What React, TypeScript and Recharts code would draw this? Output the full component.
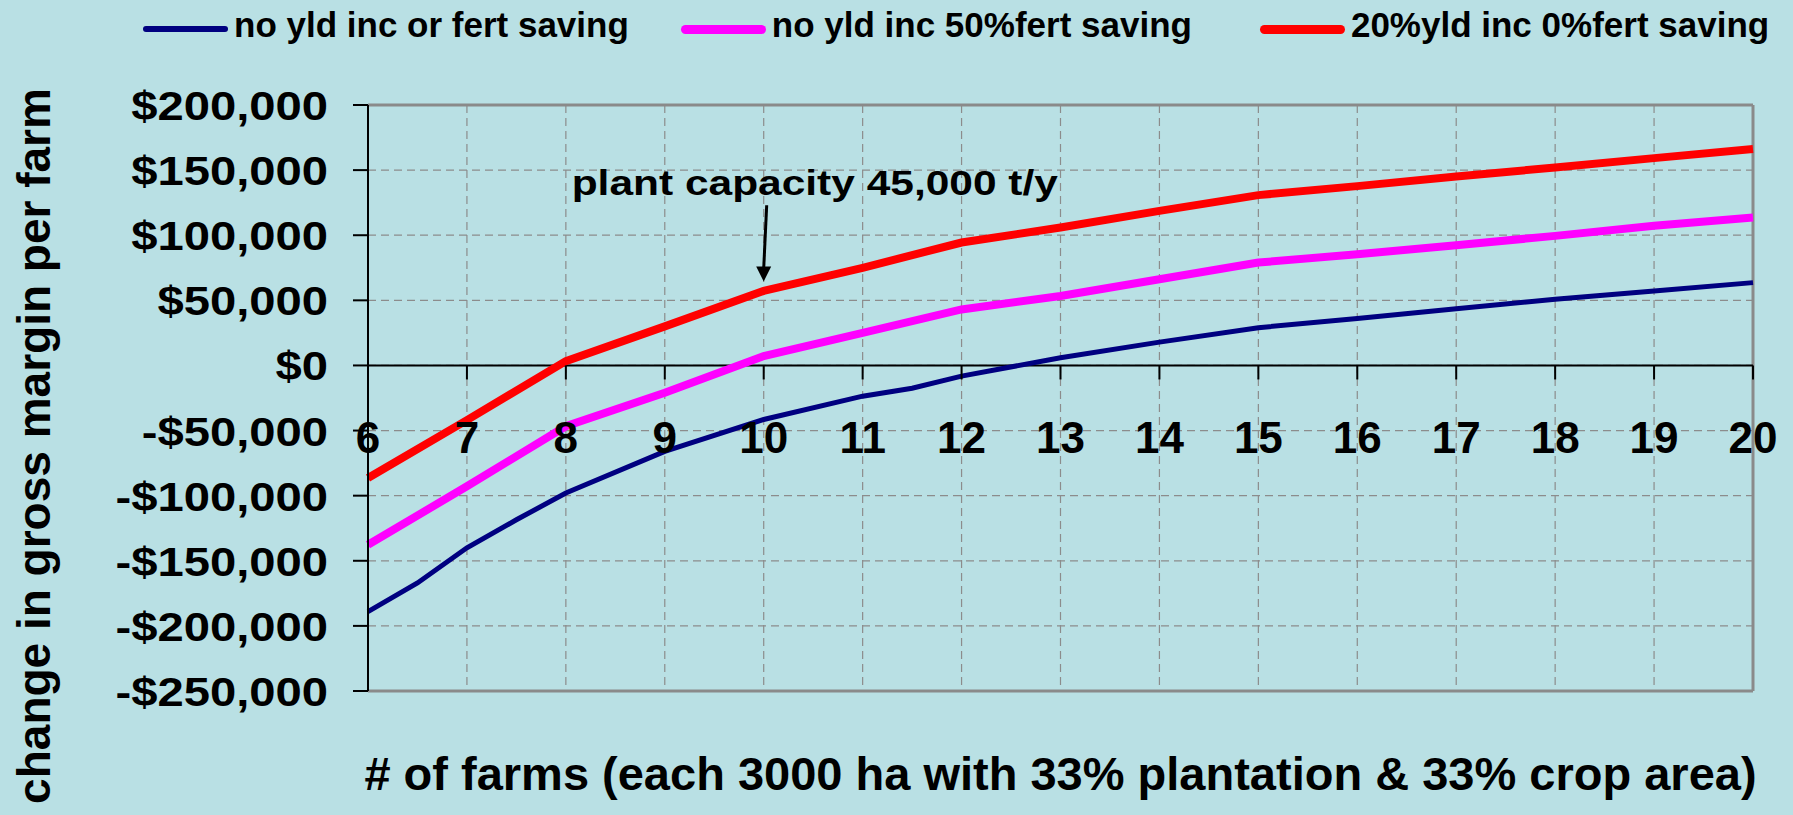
import React from 'react';
import {
  LineChart,
  Line,
  XAxis,
  YAxis,
  CartesianGrid,
  ReferenceLine,
  Legend,
} from 'recharts';

// farm counts on the category axis
const farms = [6, 7, 8, 9, 10, 11, 12, 13, 14, 15, 16, 17, 18, 19, 20];
// the base series was run at a few extra half-steps
const baseFarms = [6, 6.5, 7, 7.5, 8, 9, 10, 11, 11.5, 12, 13, 14, 15, 16, 17, 18, 19, 20];

const baseMargin = [
  -189000, -167000, -140000, -118500, -98000, -66000, -41500, -23600, -17500, -8200,
  5900, 17900, 29000, 36000, 43600, 50800, 57200, 63600,
];
const fertSavingMargin = [
  -137700, -92800, -46700, -21000, 7200, 25000, 43000, 53300, 66200, 79000, 85400,
  92300, 99500, 107200, 113600,
];
const yieldIncMargin = [
  -86400, -42000, 3300, 30000, 57200, 75000, 94400, 105900, 118700, 130800, 137700,
  145100, 152000, 159200, 166200,
];

const yTicks = [-250000, -200000, -150000, -100000, -50000, 0, 50000, 100000, 150000, 200000];

const annotationText = 'plant capacity 45,000 t/y';
const annotationFrom = { x: 10.03, y: 123000 };
const annotationTo = { x: 10, y: 64500 };

const xTitle = '# of farms (each 3000 ha with 33% plantation & 33% crop area)';
const yTitle = 'change in gross margin per farm';

const series = [
  {
    key: 'base',
    name: 'no yld inc or fert saving',
    color: '#000080',
    width: 5,
    data: baseFarms.map((x, i) => ({ x, v: baseMargin[i] })),
  },
  {
    key: 'fert',
    name: 'no yld inc 50%fert saving',
    color: '#FF00FF',
    width: 8,
    data: farms.map((x, i) => ({ x, v: fertSavingMargin[i] })),
  },
  {
    key: 'yield',
    name: '20%yld inc 0%fert saving',
    color: '#FF0000',
    width: 8,
    data: farms.map((x, i) => ({ x, v: yieldIncMargin[i] })),
  },
];

const W = 1793;
const H = 815;
const MARGIN = { top: 105, right: 40, bottom: 94, left: 8 };
const X_AXIS_H = 30;
const Y_AXIS_W = 360;
const Y_MIN = -250000;
const Y_MAX = 200000;
const PLOT_H = H - MARGIN.top - MARGIN.bottom - X_AXIS_H;
const PLOT_LEFT = MARGIN.left + Y_AXIS_W;
const PLOT_W = W - PLOT_LEFT - MARGIN.right;

const FONT = "'Liberation Sans', Arial, Helvetica, sans-serif";
const BG = '#B9E0E4';
const GRID = '#8C8C8C';
const BORDER = '#8A8A8A';

const fmtMoney = (v: number) =>
  (v < 0 ? '-$' : '$') + Math.abs(v).toLocaleString('en-US');

function YTick(props: any) {
  const { x, y, payload } = props;
  return (
    <g transform={`translate(${x},${y + 15})`}>
      <text
        transform="scale(1.18,1)"
        textAnchor="end"
        fontFamily={FONT}
        fontWeight="bold"
        fontSize={40}
        fill="#000"
      >
        {fmtMoney(payload.value)}
      </text>
    </g>
  );
}

// the category axis crosses at $0, so ticks and labels hang off the zero line
function XTick(props: any) {
  const { x, y, payload } = props;
  const zeroY = y - (PLOT_H * (0 - Y_MIN)) / (Y_MAX - Y_MIN);
  return (
    <g>
      <line x1={x} x2={x} y1={zeroY} y2={zeroY + 14} stroke="#000" strokeWidth={2} />
      <text
        x={x}
        y={zeroY + 88}
        textAnchor="middle"
        fontFamily={FONT}
        fontWeight="bold"
        fontSize={44}
        fill="#000"
      >
        {payload.value}
      </text>
    </g>
  );
}

function XTitle() {
  return (
    <text
      x={PLOT_LEFT + PLOT_W / 2}
      y={MARGIN.top + PLOT_H + 99}
      textAnchor="middle"
      fontFamily={FONT}
      fontWeight="bold"
      fontSize={47}
      fill="#000"
    >
      {xTitle}
    </text>
  );
}

function YTitle() {
  const cx = 50;
  const cy = MARGIN.top + PLOT_H / 2 + 48;
  return (
    <text
      x={cx}
      y={cy}
      transform={`rotate(-90 ${cx} ${cy})`}
      textAnchor="middle"
      fontFamily={FONT}
      fontWeight="bold"
      fontSize={46}
      fill="#000"
    >
      {yTitle}
    </text>
  );
}

function Arrow(props: any) {
  const { x1, y1, x2, y2 } = props;
  return (
    <g>
      <line x1={x1} y1={y1} x2={x2} y2={y2 - 13} stroke="#000" strokeWidth={3} />
      <polygon points={`${x2},${y2} ${x2 - 7.5},${y2 - 15} ${x2 + 7.5},${y2 - 15}`} fill="#000" />
      <g transform={`translate(${x1 - 195},${y1 - 10})`}>
        <text
          transform="scale(1.18,1)"
          fontFamily={FONT}
          fontWeight="bold"
          fontSize={36}
          fill="#000"
        >
          {annotationText}
        </text>
      </g>
    </g>
  );
}

const legendGaps = [0, 52, 68];

function LegendContent() {
  return (
    <div style={{ display: 'flex', alignItems: 'center', paddingLeft: 143, marginTop: 3, height: 44 }}>
      {series.map((s, i) => (
        <div key={s.key} style={{ display: 'flex', alignItems: 'center', marginLeft: legendGaps[i] }}>
          <span
            style={{
              display: 'inline-block',
              width: 85,
              height: s.width + 1,
              background: s.color,
              borderRadius: 5,
              position: 'relative',
              top: 4,
            }}
          />
          <span
            style={{
              marginLeft: 6,
              fontFamily: FONT,
              fontWeight: 'bold',
              fontSize: 35,
              lineHeight: '44px',
              color: '#000',
              whiteSpace: 'nowrap',
            }}
          >
            {s.name}
          </span>
        </div>
      ))}
    </div>
  );
}

export default function App() {
  return (
    <div style={{ position: 'absolute', left: 0, top: 0, width: W, height: H, background: BG }}>
      <LineChart width={W} height={H} margin={MARGIN}>
        <CartesianGrid stroke={GRID} strokeDasharray="8 5" strokeWidth={1.2} />
        <XAxis
          type="number"
          dataKey="x"
          domain={[6, 20]}
          ticks={farms}
          interval={0}
          height={X_AXIS_H}
          tickSize={0}
          tickMargin={0}
          tickLine={false}
          axisLine={{ stroke: BORDER, strokeWidth: 3 }}
          tick={<XTick />}
          label={<XTitle />}
        />
        <YAxis
          type="number"
          domain={[Y_MIN, Y_MAX]}
          ticks={yTicks}
          interval={0}
          width={Y_AXIS_W}
          tickSize={15}
          tickMargin={25}
          tickLine={{ stroke: '#000', strokeWidth: 2 }}
          axisLine={{ stroke: '#000', strokeWidth: 2 }}
          tick={<YTick />}
          label={<YTitle />}
        />
        <ReferenceLine y={Y_MAX} stroke={BORDER} strokeWidth={3} />
        <ReferenceLine x={20} stroke={BORDER} strokeWidth={3} />
        <ReferenceLine y={0} stroke="#000" strokeWidth={2} />
        <Legend
          verticalAlign="middle"
          align="center"
          layout="horizontal"
          wrapperStyle={{ top: 0, left: 0, width: W }}
          content={<LegendContent />}
        />
        {series.map((s) => (
          <Line
            key={s.key}
            data={s.data}
            dataKey="v"
            name={s.name}
            type="linear"
            stroke={s.color}
            strokeWidth={s.width}
            dot={false}
            activeDot={false}
            isAnimationActive={false}
          />
        ))}
        <ReferenceLine
          segment={[annotationFrom, annotationTo]}
          shape={<Arrow />}
          ifOverflow="visible"
        />
      </LineChart>
    </div>
  );
}
